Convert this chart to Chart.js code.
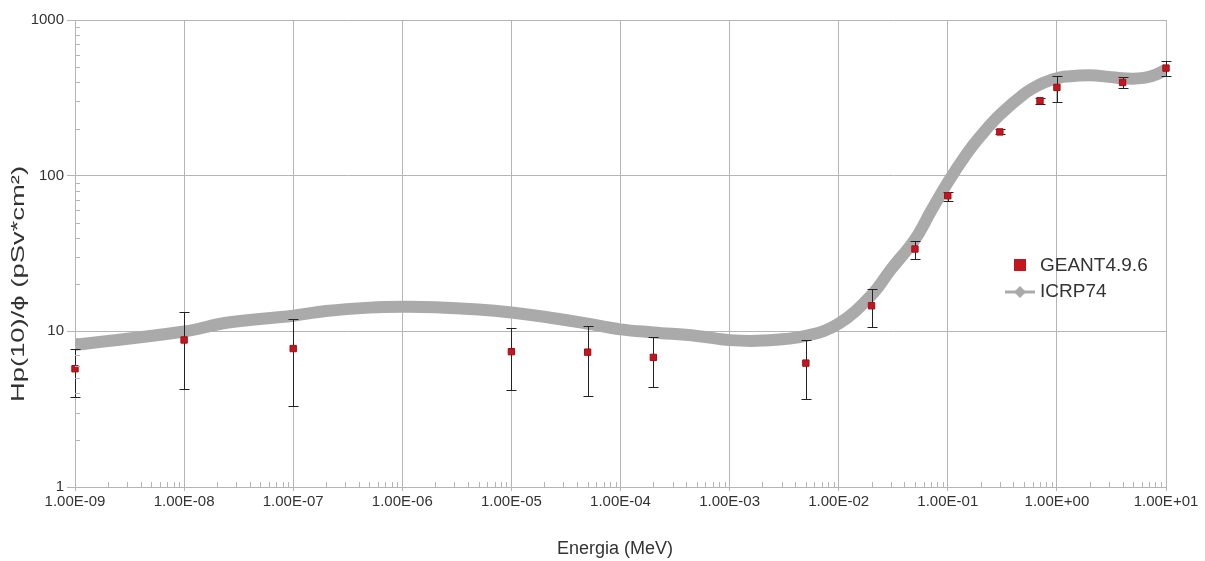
<!DOCTYPE html>
<html>
<head>
<meta charset="utf-8">
<script src="https://cdn.jsdelivr.net/npm/chart.js@4.4.1/dist/chart.umd.min.js"></script>
<style>
  html, body { margin: 0; padding: 0; background: #ffffff; }
  #wrap { width: 1205px; height: 561px; position: relative; }
</style>
</head>
<body>
<div id="wrap"><canvas id="c" width="1205" height="561"></canvas></div>
<script>
// ---- data ----
const geantEnergy = [1e-9, 1e-8, 1e-7, 1e-5, 5e-5, 2e-4, 5e-3, 2e-2, 5e-2, 1e-1, 3e-1, 7e-1, 1, 4, 10];
const geantValue  = [5.75, 8.8, 7.75, 7.4, 7.35, 6.8, 6.25, 14.6, 33.8, 74.3, 191, 303, 369, 397, 491];
const geantUpper  = [7.66, 13.4, 12.05, 10.45, 10.8, 9.15, 8.8, 18.6, 38.2, 78.8, 199, 316, 438, 432, 547];
const geantLower  = [3.77, 4.24, 3.31, 4.18, 3.84, 4.39, 3.66, 10.7, 29.1, 68.7, 184, 289, 297, 365, 436];

const icrpEnergy = [1e-9, 1e-8, 2.53e-8, 1e-7, 2e-7, 5e-7, 1e-6, 2e-6, 5e-6, 1e-5, 2e-5, 5e-5, 1e-4, 2e-4, 5e-4,
                    1e-3, 2e-3, 5e-3, 1e-2, 2e-2, 3e-2, 5e-2, 7e-2, 1e-1, 1.5e-1, 2e-1, 3e-1, 5e-1, 7e-1, 9e-1,
                    1, 1.2, 2, 3, 4, 5, 6, 7, 8, 10];
const icrpValue  = [8.19, 9.97, 11.4, 12.6, 13.5, 14.2, 14.4, 14.3, 13.8, 13.2, 12.4, 11.2, 10.3, 9.84, 9.34,
                    8.78, 8.72, 9.36, 11.2, 17.1, 24.9, 39.0, 59.0, 90.6, 139, 180, 246, 335, 386, 414,
                    422, 433, 442, 431, 422, 420, 423, 432, 445, 480];

const xTickValues = [1e-9, 1e-8, 1e-7, 1e-6, 1e-5, 1e-4, 1e-3, 1e-2, 1e-1, 1, 10];
const yTickValues = [1, 10, 100, 1000];
const seriesNames = ['GEANT4.9.6', 'ICRP74'];
const xTitle = 'Energia (MeV)';
const yTitle = 'Hp(10)/ϕ (pSv*cm²)';

// ---- styles ----
const RED = '#c3161f';
const RED_BORDER = '#a10f17';
const GREY_LINE = '#aaaaaa';
const GRID = '#b5b5b5';
const TEXT = '#333333';
const FONT = "'Liberation Sans', Arial, sans-serif";

function fmtE(v) {
  const e = Math.round(Math.log10(v));
  const sign = e < 0 ? '-' : '+';
  return '1.00E' + sign + String(Math.abs(e)).padStart(2, '0');
}

const geantPoints = geantEnergy.map((x, i) => ({ x: x, y: geantValue[i] }));
const icrpPoints = icrpEnergy.map((x, i) => ({ x: x, y: icrpValue[i] }));

const errorBars = {
  id: 'errorBars',
  beforeDatasetDraw(chart, args) {
    if (args.index !== 0) return;
    const ctx = chart.ctx;
    const xs = chart.scales.x, ys = chart.scales.y;
    ctx.save();
    ctx.strokeStyle = '#222222';
    ctx.lineWidth = 1;
    const cap = 5;
    geantEnergy.forEach((e, i) => {
      const px = Math.round(xs.getPixelForValue(e)) + 0.5;
      const pt = Math.round(ys.getPixelForValue(geantUpper[i])) + 0.5;
      const pb = Math.round(ys.getPixelForValue(geantLower[i])) + 0.5;
      ctx.beginPath();
      ctx.moveTo(px, pt); ctx.lineTo(px, pb);
      ctx.moveTo(px - cap, pt); ctx.lineTo(px + cap, pt);
      ctx.moveTo(px - cap, pb); ctx.lineTo(px + cap, pb);
      ctx.stroke();
    });
    ctx.restore();
  }
};

const minorTicks = {
  id: 'minorTicks',
  afterDraw(chart) {
    const ctx = chart.ctx;
    const xs = chart.scales.x, ys = chart.scales.y;
    const a = chart.chartArea;
    ctx.save();
    ctx.strokeStyle = GRID;
    ctx.lineWidth = 1;
    ctx.beginPath();
    for (let k = -9; k < 1; k++) {
      for (let m = 2; m <= 9; m++) {
        const px = Math.round(xs.getPixelForValue(m * Math.pow(10, k))) + 0.5;
        ctx.moveTo(px, a.bottom); ctx.lineTo(px, a.bottom - 5);
      }
    }
    for (let k = 0; k < 3; k++) {
      for (let m = 2; m <= 9; m++) {
        const py = Math.round(ys.getPixelForValue(m * Math.pow(10, k))) + 0.5;
        ctx.moveTo(a.left, py); ctx.lineTo(a.left + 5, py);
      }
    }
    ctx.stroke();
    ctx.restore();
  }
};

const axisTitles = {
  id: 'axisTitles',
  afterDraw(chart) {
    const ctx = chart.ctx;
    ctx.save();
    ctx.fillStyle = TEXT;
    ctx.textAlign = 'center';
    ctx.textBaseline = 'middle';
    ctx.font = '18px ' + FONT;
    ctx.fillText(xTitle, 615, 549);
    ctx.translate(19, 284);
    ctx.rotate(-Math.PI / 2);
    ctx.font = '19px ' + FONT;
    const w = ctx.measureText(yTitle).width;
    ctx.scale(236 / w, 1);
    ctx.fillText(yTitle, 0, 0);
    ctx.restore();
  }
};

const customLegend = {
  id: 'customLegend',
  afterDraw(chart) {
    const ctx = chart.ctx;
    ctx.save();
    ctx.font = '19px ' + FONT;
    ctx.textBaseline = 'middle';
    ctx.textAlign = 'left';
    ctx.fillStyle = RED;
    ctx.fillRect(1014, 259, 12, 12);
    ctx.fillStyle = TEXT;
    ctx.fillText(seriesNames[0], 1040, 266);
    ctx.strokeStyle = GREY_LINE;
    ctx.lineWidth = 3;
    ctx.beginPath();
    ctx.moveTo(1005, 292); ctx.lineTo(1035, 292);
    ctx.stroke();
    ctx.fillStyle = GREY_LINE;
    ctx.beginPath();
    ctx.moveTo(1020, 286); ctx.lineTo(1026, 292); ctx.lineTo(1020, 298); ctx.lineTo(1014, 292);
    ctx.closePath();
    ctx.fill();
    ctx.fillStyle = TEXT;
    ctx.fillText(seriesNames[1], 1040, 292);
    ctx.restore();
  }
};

new Chart(document.getElementById('c'), {
  type: 'scatter',
  data: {
    datasets: [
      {
        label: seriesNames[0],
        data: geantPoints,
        showLine: false,
        pointStyle: 'rect',
        pointRadius: 4.5,
        pointHoverRadius: 4.5,
        backgroundColor: RED,
        borderColor: RED_BORDER,
        borderWidth: 1,
        clip: false,
        order: 0
      },
      {
        label: seriesNames[1],
        data: icrpPoints,
        showLine: true,
        borderColor: GREY_LINE,
        backgroundColor: GREY_LINE,
        borderWidth: 12,
        pointRadius: 0,
        pointHoverRadius: 0,
        tension: 0.4,
        borderJoinStyle: 'round',
        order: 1
      }
    ]
  },
  options: {
    responsive: false,
    animation: false,
    devicePixelRatio: 1,
    layout: { padding: { top: 20, right: 39, left: 0, bottom: 0 } },
    plugins: {
      legend: { display: false },
      tooltip: { enabled: false }
    },
    scales: {
      x: {
        type: 'logarithmic',
        min: 1e-9,
        max: 10,
        afterBuildTicks(scale) { scale.ticks = xTickValues.map(v => ({ value: v })); },
        afterFit(scale) { scale.height = 74; },
        grid: { color: GRID, tickLength: 4, tickColor: GRID },
        border: { color: GRID },
        ticks: {
          color: TEXT,
          font: { family: FONT, size: 15 },
          padding: 2,
          maxRotation: 0,
          autoSkip: false,
          callback: v => fmtE(v)
        },
        title: { display: false }
      },
      y: {
        type: 'logarithmic',
        min: 1,
        max: 1000,
        afterBuildTicks(scale) { scale.ticks = yTickValues.map(v => ({ value: v })); },
        afterFit(scale) { scale.width = 75; },
        grid: { color: GRID, tickLength: 8, tickColor: GRID },
        border: { color: GRID },
        ticks: {
          color: TEXT,
          font: { family: FONT, size: 15 },
          padding: 3,
          autoSkip: false,
          callback: v => String(v)
        },
        title: { display: false }
      }
    }
  },
  plugins: [errorBars, minorTicks, axisTitles, customLegend]
});
</script>
</body>
</html>
